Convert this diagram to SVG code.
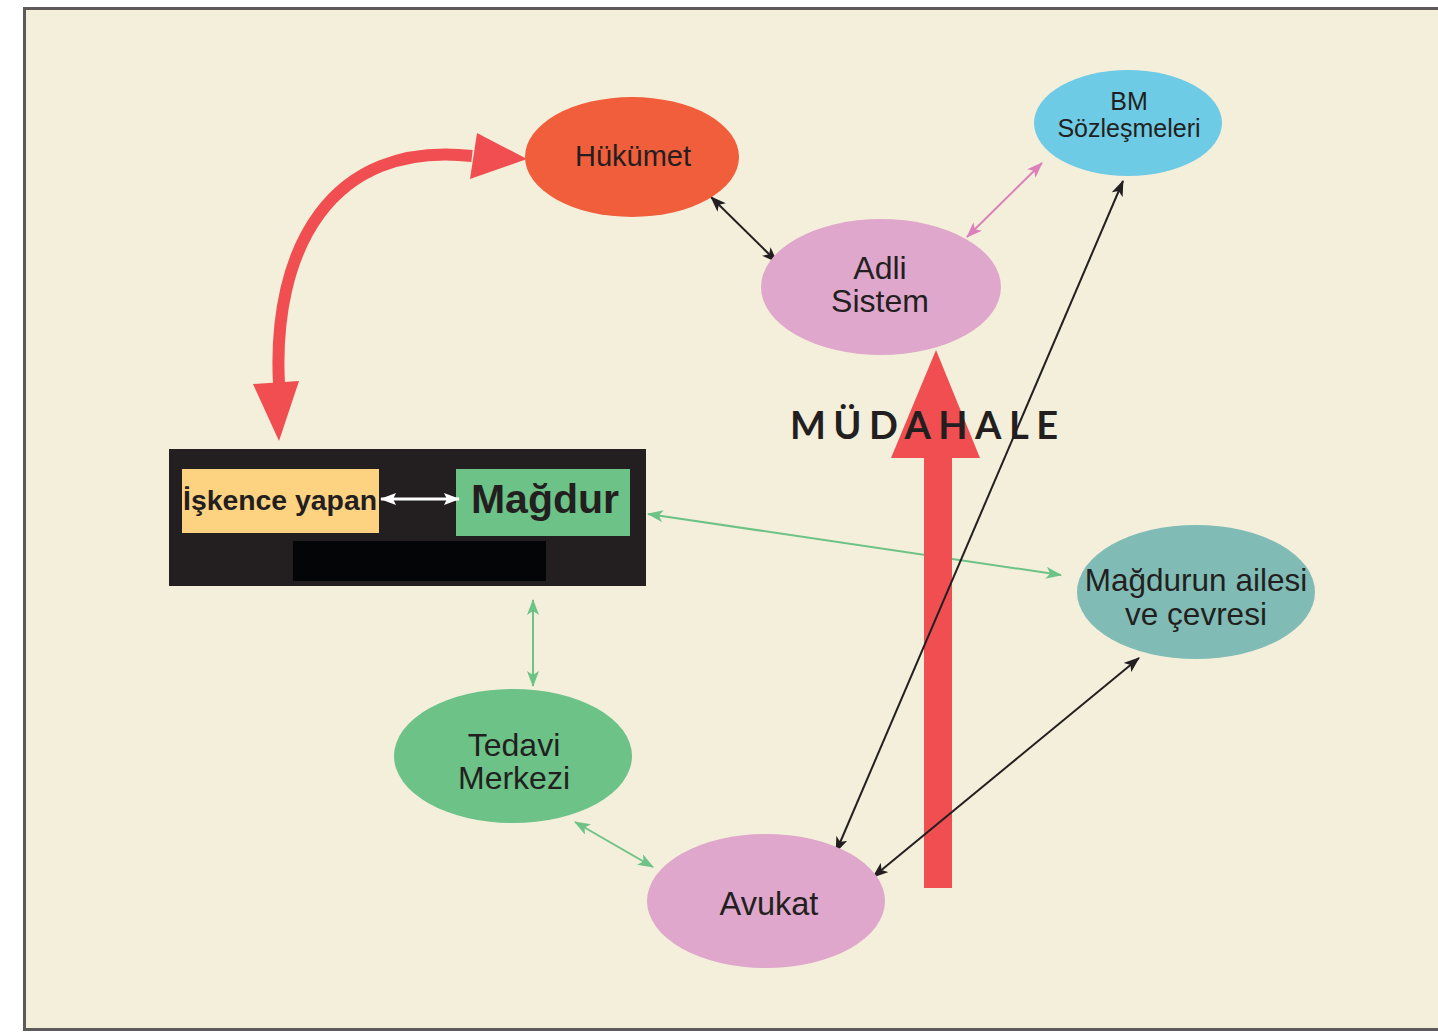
<svg xmlns="http://www.w3.org/2000/svg" width="1438" height="1033" viewBox="0 0 1438 1033">
<style>
.lbl{font-family:"Liberation Sans",Arial,sans-serif;fill:#231f20;text-anchor:middle}
.c{fill:none;stroke-width:2}
</style>
<defs>
<marker id="ab" markerUnits="userSpaceOnUse" viewBox="0 0 16 12" refX="15" refY="6" markerWidth="16" markerHeight="12" orient="auto-start-reverse"><path d="M0,0 L16,6 L0,12 L4,6 Z" fill="#231f20"/></marker>
<marker id="ap" markerUnits="userSpaceOnUse" viewBox="0 0 16 12" refX="15" refY="6" markerWidth="16" markerHeight="12" orient="auto-start-reverse"><path d="M0,0 L16,6 L0,12 L4,6 Z" fill="#dc7fba"/></marker>
<marker id="ag" markerUnits="userSpaceOnUse" viewBox="0 0 16 12" refX="15" refY="6" markerWidth="16" markerHeight="12" orient="auto-start-reverse"><path d="M0,0 L16,6 L0,12 L4,6 Z" fill="#6cc287"/></marker>
<marker id="aw" markerUnits="userSpaceOnUse" viewBox="0 0 16 12" refX="15" refY="6" markerWidth="16" markerHeight="12" orient="auto-start-reverse"><path d="M0,0 L16,6 L0,12 L3,6 Z" fill="#ffffff"/></marker>
</defs>
<rect width="1438" height="1033" fill="#ffffff"/>
<rect x="24.5" y="8.5" width="1420" height="1021" fill="#f4efda" stroke="#5f5a5a" stroke-width="3"/>

<g id="connectors">
<path d="M279,384 C272,250 330,140 472,156" fill="none" stroke="#f04e51" stroke-width="12"/>
<polygon points="477,133 527,159 470,179" fill="#f04e51"/>
<polygon points="253,384 299,381 279,441" fill="#f04e51"/>
<line class="c" x1="711" y1="197" x2="777" y2="262" stroke="#231f20" marker-start="url(#ab)" marker-end="url(#ab)"/>
<line class="c" x1="967" y1="237" x2="1042" y2="163" stroke="#dc7fba" marker-start="url(#ap)" marker-end="url(#ap)"/>
<line class="c" x1="648" y1="514" x2="1061" y2="575" stroke="#6cc287" marker-start="url(#ag)" marker-end="url(#ag)"/>
<line class="c" x1="533" y1="600" x2="533" y2="686" stroke="#6cc287" marker-start="url(#ag)" marker-end="url(#ag)"/>
<line class="c" x1="575" y1="822" x2="653" y2="867" stroke="#6cc287" marker-start="url(#ag)" marker-end="url(#ag)"/>
<rect x="924" y="455" width="28" height="433" fill="#f04e51"/>
<polygon points="891,458 980,458 936,350" fill="#f04e51"/>
<line class="c" x1="1123" y1="181" x2="836" y2="852" stroke="#231f20" marker-start="url(#ab)" marker-end="url(#ab)"/>
<line class="c" x1="1139" y1="658" x2="873" y2="877" stroke="#231f20" marker-start="url(#ab)" marker-end="url(#ab)"/>
</g>

<text x="790" y="439" font-family="Lato,'DejaVu Sans',sans-serif" font-weight="bold" font-size="38" fill="#231f20" textLength="268" lengthAdjust="spacing">MÜDAHALE</text>

<g id="hukumet">
<ellipse cx="632" cy="157" rx="107" ry="60" fill="#f15e3c"/>
<text class="lbl" x="633" y="166" font-size="29">Hükümet</text>
</g>
<g id="bm">
<ellipse cx="1128" cy="123" rx="94" ry="53" fill="#6ecbe5"/>
<text class="lbl" x="1129" y="110" font-size="25">BM</text>
<text class="lbl" x="1129" y="137" font-size="25">Sözleşmeleri</text>
</g>
<g id="adli">
<ellipse cx="881" cy="287" rx="120" ry="68" fill="#dea7cb"/>
<text class="lbl" x="880" y="279" font-size="32">Adli</text>
<text class="lbl" x="880" y="312" font-size="32">Sistem</text>
</g>
<g id="box">
<rect x="169" y="449" width="477" height="137" fill="#231f20"/>
<rect x="182" y="469" width="197" height="64" fill="#fdd382"/>
<text class="lbl" x="280" y="510" font-size="28" font-weight="bold" textLength="194" lengthAdjust="spacingAndGlyphs">İşkence yapan</text>
<rect x="456" y="469" width="174" height="67" fill="#6cc287"/>
<text class="lbl" x="545" y="513" font-size="41" font-weight="bold">Mağdur</text>
<rect x="293" y="541" width="253" height="40" fill="#030506"/>
<line x1="381" y1="499" x2="459" y2="499" stroke="#ffffff" stroke-width="3" marker-start="url(#aw)" marker-end="url(#aw)"/>
</g>
<g id="aile">
<ellipse cx="1196" cy="592" rx="119" ry="67" fill="#80bcb5"/>
<text class="lbl" x="1196" y="591" font-size="31.5">Mağdurun ailesi</text>
<text class="lbl" x="1196" y="625" font-size="31.5">ve çevresi</text>
</g>
<g id="tedavi">
<ellipse cx="513" cy="756" rx="119" ry="67" fill="#6cc287"/>
<text class="lbl" x="514" y="756" font-size="32">Tedavi</text>
<text class="lbl" x="514" y="789" font-size="32">Merkezi</text>
</g>
<g id="avukat">
<ellipse cx="766" cy="901" rx="119" ry="67" fill="#dea7cb"/>
<text class="lbl" x="769" y="915" font-size="32.5">Avukat</text>
</g>
</svg>
